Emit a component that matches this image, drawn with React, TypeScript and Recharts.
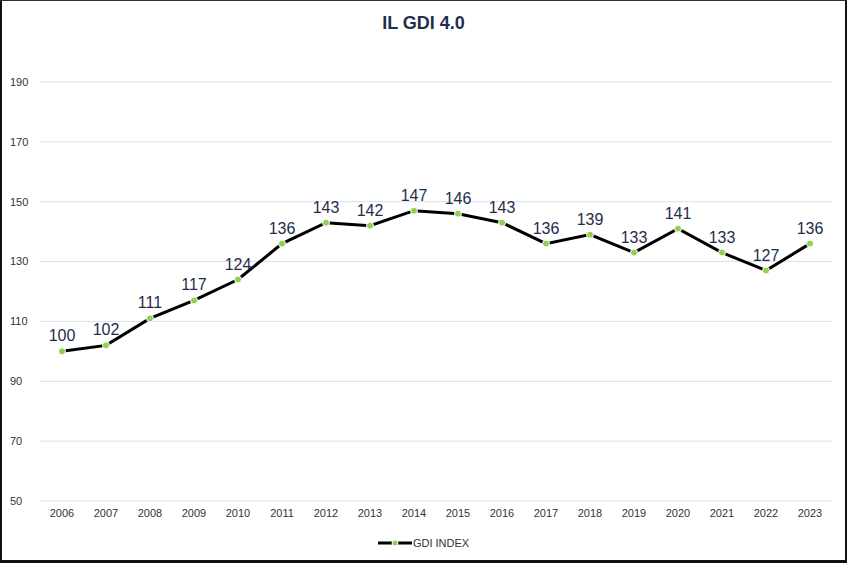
import { LineChart, Line, XAxis, YAxis, CartesianGrid, LabelList } from "recharts";

const years = ["2006","2007","2008","2009","2010","2011","2012","2013","2014","2015","2016","2017","2018","2019","2020","2021","2022","2023"];
const gdiIndex = [100, 102, 111, 117, 124, 136, 143, 142, 147, 146, 143, 136, 139, 133, 141, 133, 127, 136];
const yTicks = [50, 70, 90, 110, 130, 150, 170, 190];

const data = years.map((year, i) => ({ year, gdi: gdiIndex[i] }));

const font = "'Liberation Sans', Arial, sans-serif";

export default function App() {
  return (
    <div
      style={{
        position: "fixed",
        left: 0,
        top: 0,
        width: 847,
        height: 563,
        boxSizing: "border-box",
        borderLeft: "2px solid #111",
        borderTop: "1px solid #333",
        borderRight: "2px solid #111",
        borderBottom: "3px solid #111",
        background: "#fff",
        fontFamily: font,
      }}
    >
      <div
        style={{
          position: "absolute",
          top: 12,
          left: 0,
          width: "100%",
          textAlign: "center",
          fontSize: 18,
          fontWeight: "bold",
          color: "#1f2f4d",
        }}
      >
        IL GDI 4.0
      </div>
      <LineChart
        width={843}
        height={559}
        data={data}
        margin={{ top: 81, right: 13, left: 0, bottom: 29 }}
      >
        <CartesianGrid vertical={false} stroke="#d6e2f0" />
        <XAxis
          dataKey="year"
          axisLine={false}
          tickLine={false}
          height={30}
          padding={{ left: 22, right: 22 }}
          tick={{ fontSize: 11, fill: "#333", fontFamily: font }}
        />
        <YAxis
          domain={[50, 190]}
          ticks={yTicks}
          width={38}
          axisLine={false}
          tickLine={false}
          tick={{ fontSize: 11, fill: "#333", fontFamily: font, textAnchor: "start", dx: -22 }}
        />
        <Line
          dataKey="gdi"
          stroke="#000"
          strokeWidth={3}
          type="linear"
          dot={{ r: 3.5, fill: "#92d050", stroke: "#fff", strokeWidth: 1 }}
          isAnimationActive={false}
        >
          <LabelList
            dataKey="gdi"
            position="top"
            offset={10}
            style={{ fontSize: 16, fill: "#1f2d4a", fontFamily: font }}
          />
        </Line>
      </LineChart>
      <div
        style={{
          position: "absolute",
          top: 536,
          left: 0,
          width: "100%",
          display: "flex",
          justifyContent: "center",
          alignItems: "center",
          fontSize: 11,
          color: "#333",
        }}
      >
        <svg width={34} height={10} style={{ marginRight: 1 }}>
          <line x1={0} y1={5} x2={34} y2={5} stroke="#000" strokeWidth={3} />
          <circle cx={17} cy={5} r={3} fill="#92d050" stroke="#fff" strokeWidth={1} />
        </svg>
        GDI INDEX
      </div>
    </div>
  );
}
